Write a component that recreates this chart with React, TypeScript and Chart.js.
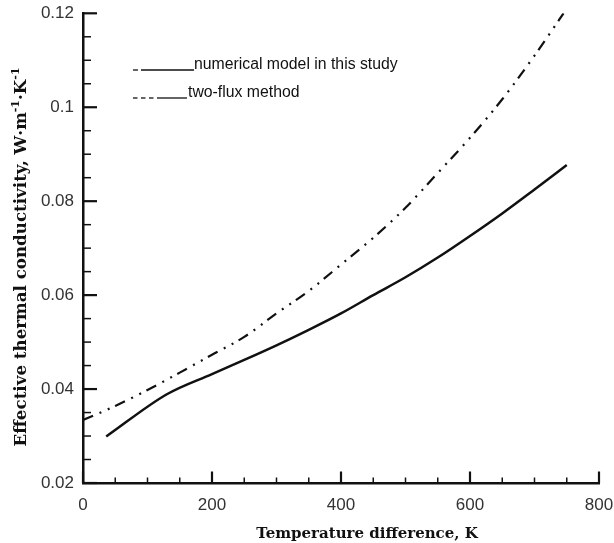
import React, { useEffect, useRef } from "react";
import { Chart, registerables } from "chart.js";

Chart.register(...registerables);

// Solid curve: numerical model in this study
const numericalX = [36, 130, 200, 250, 300, 350, 400, 450, 500, 550, 600, 650, 700, 750];
const numericalY = [0.0299, 0.0389, 0.0432, 0.0462, 0.0493, 0.0526, 0.0561, 0.06, 0.0638, 0.068, 0.0726, 0.0774, 0.0825, 0.0877];

// Dash-dot curve: two-flux method
const twoFluxX = [0, 50, 100, 150, 200, 250, 300, 350, 400, 450, 500, 550, 600, 650, 700, 745];
const twoFluxY = [0.0334, 0.0364, 0.0398, 0.0435, 0.0473, 0.0511, 0.0561, 0.0609, 0.0665, 0.0722, 0.0786, 0.086, 0.0935, 0.1017, 0.111, 0.12];

const xMajorTicks = [0, 200, 400, 600, 800];
const xMinorTicks = [50, 100, 150, 250, 300, 350, 450, 500, 550, 650, 700, 750];
const yMajorTicks = [0.02, 0.04, 0.06, 0.08, 0.1, 0.12];
const yMinorTicks = [0.025, 0.03, 0.035, 0.045, 0.05, 0.055, 0.065, 0.07, 0.075, 0.085, 0.09, 0.095, 0.105, 0.11, 0.115];

const legendLabels = ["numerical model in this study", "two-flux method"];
const xTitle = "Temperature difference, K";
const yTitleParts = ["Effective thermal conductivity, W·m", "-1", "·K", "-1"];

const TITLE_FONT = "bold 15px 'DejaVu Serif', serif";
const YTITLE_FONT = "bold 16.7px 'DejaVu Serif', serif";
const SUP_FONT = "bold 11px 'DejaVu Serif', serif";
const LEGEND_FONT = "15.8px 'Liberation Sans', Arial, sans-serif";

const zeroPad = (s: any) => {
  s.paddingLeft = 0;
  s.paddingRight = 0;
  s.paddingTop = 0;
  s.paddingBottom = 0;
};

const decorPlugin = {
  id: "decor",
  afterDraw(chart: any) {
    const ctx = chart.ctx as CanvasRenderingContext2D;
    const xs = chart.scales.x;
    const ys = chart.scales.y;
    const area = chart.chartArea;
    ctx.save();
    ctx.strokeStyle = "#111";
    xMajorTicks.forEach((v) => {
      const px = xs.getPixelForValue(v);
      ctx.lineWidth = 2.2;
      ctx.beginPath();
      ctx.moveTo(px, area.bottom);
      ctx.lineTo(px, area.bottom - 11.5);
      ctx.stroke();
    });
    xMinorTicks.forEach((v) => {
      const px = xs.getPixelForValue(v);
      ctx.lineWidth = 1.5;
      ctx.beginPath();
      ctx.moveTo(px, area.bottom);
      ctx.lineTo(px, area.bottom - 5.5);
      ctx.stroke();
    });
    yMajorTicks.forEach((v) => {
      const py = ys.getPixelForValue(v);
      ctx.lineWidth = 2.2;
      ctx.beginPath();
      ctx.moveTo(area.left, py);
      ctx.lineTo(area.left + 14, py);
      ctx.stroke();
    });
    yMinorTicks.forEach((v) => {
      const py = ys.getPixelForValue(v);
      ctx.lineWidth = 1.5;
      ctx.beginPath();
      ctx.moveTo(area.left, py);
      ctx.lineTo(area.left + 8, py);
      ctx.stroke();
    });

    // legend samples and labels
    ctx.lineWidth = 1.3;
    const seg = (a: number, b: number, y: number) => {
      ctx.beginPath();
      ctx.moveTo(a, y);
      ctx.lineTo(b, y);
      ctx.stroke();
    };
    seg(133, 138, 70);
    seg(141, 194, 70);
    seg(133, 137.5, 98);
    seg(141, 145.5, 98);
    seg(149, 153.5, 98);
    seg(157, 187, 98);
    ctx.fillStyle = "#111";
    ctx.font = LEGEND_FONT;
    ctx.textAlign = "left";
    ctx.textBaseline = "alphabetic";
    ctx.fillText(legendLabels[0], 194, 69);
    ctx.fillText(legendLabels[1], 188, 97);

    // x title
    ctx.font = TITLE_FONT;
    ctx.textAlign = "center";
    ctx.fillText(xTitle, 367, 538);

    // y title with superscripts
    const widths = yTitleParts.map((t, i) => {
      ctx.font = i % 2 === 1 ? SUP_FONT : YTITLE_FONT;
      return ctx.measureText(t).width;
    });
    const total = widths.reduce((a, b) => a + b, 0);
    ctx.save();
    ctx.translate(26, 257);
    ctx.rotate(-Math.PI / 2);
    ctx.textAlign = "left";
    let cx = -total / 2;
    yTitleParts.forEach((t, i) => {
      const sup = i % 2 === 1;
      ctx.font = sup ? SUP_FONT : YTITLE_FONT;
      ctx.fillText(t, cx, sup ? -7 : 0);
      cx += widths[i];
    });
    ctx.restore();
    ctx.restore();
  },
};

export default function App() {
  const ref = useRef<HTMLCanvasElement | null>(null);
  useEffect(() => {
    if (!ref.current) return;
    const chart = new Chart(ref.current, {
      type: "line",
      data: {
        datasets: [
          {
            label: legendLabels[0],
            data: numericalX.map((x, i) => ({ x, y: numericalY[i] })),
            borderColor: "#111",
            borderWidth: 2.5,
            pointRadius: 0,
            cubicInterpolationMode: "monotone",
            fill: false,
          },
          {
            label: legendLabels[1],
            data: twoFluxX.map((x, i) => ({ x, y: twoFluxY[i] })),
            borderColor: "#111",
            borderWidth: 2.2,
            borderDash: [11, 7, 2, 7, 2, 6],
            pointRadius: 0,
            cubicInterpolationMode: "monotone",
            fill: false,
          },
        ],
      },
      options: {
        animation: false,
        responsive: false,
        layout: { autoPadding: false, padding: { left: 0, top: 13.3, right: 15, bottom: 0 } } as any,
        plugins: { legend: { display: false }, tooltip: { enabled: false } },
        scales: {
          x: {
            type: "linear",
            min: 0,
            max: 800,
            afterFit: (s: any) => {
              s.height = 60;
              zeroPad(s);
            },
            afterBuildTicks: (s: any) => {
              s.ticks = xMajorTicks.map((v) => ({ value: v }));
            },
            grid: { display: false, drawTicks: false },
            border: { display: true, color: "#111", width: 2.5 },
            ticks: {
              padding: 12,
              color: "#333",
              font: { family: "'Liberation Sans', Arial, sans-serif", size: 17 },
              callback: (v: any) => String(v),
            },
          },
          y: {
            type: "linear",
            min: 0.02,
            max: 0.12,
            afterFit: (s: any) => {
              s.width = 83;
              zeroPad(s);
            },
            afterBuildTicks: (s: any) => {
              s.ticks = yMajorTicks.map((v) => ({ value: v }));
            },
            grid: { display: false, drawTicks: false },
            border: { display: true, color: "#111", width: 2.5 },
            ticks: {
              padding: 9,
              color: "#333",
              font: { family: "'Liberation Sans', Arial, sans-serif", size: 17 },
              callback: (v: any) => String(Number(Number(v).toFixed(3))),
            },
          },
        },
      },
      plugins: [decorPlugin],
    });
    return () => chart.destroy();
  }, []);
  return (
    <div style={{ position: "fixed", left: 0, top: 0, width: 614, height: 543, background: "#fff" }}>
      <canvas ref={ref} width={614} height={543} style={{ display: "block" }} />
    </div>
  );
}
